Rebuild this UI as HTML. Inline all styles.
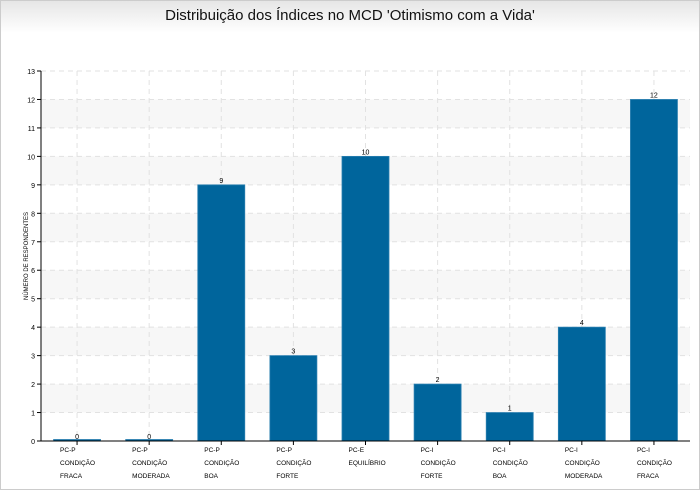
<!DOCTYPE html>
<html><head><meta charset="utf-8"><style>
body{margin:0;background:#fff}
#wrap{position:relative;width:698px;height:488px;border:1px solid #ccc;overflow:hidden;background:#fff}
#title{position:absolute;left:0;top:0;width:698px;height:32px;background:linear-gradient(#e6e6e6,#fff);text-align:center;font:15px "Liberation Sans",sans-serif;line-height:30px;color:#111}
svg{position:absolute;left:0;top:0}
</style></head><body>
<div id="wrap">
<div id="title">Distribuição dos Índices no MCD 'Otimismo com a Vida'</div>
<svg id="chart" width="698" height="488"></svg>
</div>
<script>
const categories=[["PC-P","CONDIÇÃO","FRACA"],["PC-P","CONDIÇÃO","MODERADA"],["PC-P","CONDIÇÃO","BOA"],["PC-P","CONDIÇÃO","FORTE"],["PC-E","EQUILÍBRIO"],["PC-I","CONDIÇÃO","FORTE"],["PC-I","CONDIÇÃO","BOA"],["PC-I","CONDIÇÃO","MODERADA"],["PC-I","CONDIÇÃO","FRACA"]];
const values=[0,0,9,3,10,2,1,4,12];
const yTicks=[0,1,2,3,4,5,6,7,8,9,10,11,12,13];
const svg=document.getElementById('chart');const NS='http://www.w3.org/2000/svg';
const L=40,R=689,T=70,B=440,yMax=13;
const y=v=>B-(v/yMax)*(B-T);
const step=(R-L)/categories.length;
const x=i=>L+step*(i+0.5);
function mk(t,a,p){const e=document.createElementNS(NS,t);for(const k in a)e.setAttribute(k,a[k]);(p||svg).appendChild(e);return e;}
for(let v=0;v<yMax;v++){if(v%2===1){const r=mk('rect',{x:L,y:y(v+1),width:R-L,height:y(v)-y(v+1),fill:'#f7f7f7'});}}
yTicks.forEach(v=>{const l=mk('line',{x1:L,x2:R,y1:y(v),y2:y(v),stroke:'#e2e2e2','stroke-dasharray':'5,4'});
const t=mk('line',{x1:L-4,x2:L,y1:y(v),y2:y(v),stroke:'#000'});
const tx=mk('text',{x:L-6,y:y(v)+3,'text-anchor':'end','font-size':'7','font-family':'Liberation Sans, sans-serif'});tx.textContent=v;});
categories.forEach((c,i)=>{const g=mk('line',{x1:x(i),x2:x(i),y1:T,y2:B,stroke:'#e2e2e2','stroke-dasharray':'5,4'});});
const bw=47;
values.forEach((v,i)=>{const h=Math.max(y(0)-y(v),1.5);const r=mk('rect',{x:x(i)-bw/2,y:y(0)-h,width:bw,height:h,fill:'#00659c',stroke:'#2a7fb0','stroke-width':'0.8'});
const t=mk('text',{x:x(i),y:y(v)-2,'text-anchor':'middle','font-size':'7','font-family':'Liberation Sans, sans-serif'});t.textContent=v;
const tk=mk('line',{x1:x(i),x2:x(i),y1:B,y2:B+4,stroke:'#000'});
categories[i].forEach((s,j)=>{const tx=mk('text',{x:x(i)-17,y:B+11+j*13,'font-size':'6.5','font-family':'Liberation Sans, sans-serif'});tx.textContent=s;});});
const ax=mk('line',{x1:L,x2:L,y1:T,y2:B,stroke:'#000'});
const bx=mk('line',{x1:L,x2:R,y1:B,y2:B,stroke:'#000'});
const yt=mk('text',{x:0,y:0,transform:'translate(27,255) rotate(-90)','text-anchor':'middle','font-size':'6','font-family':'Liberation Sans, sans-serif'});yt.textContent='NÚMERO DE RESPONDENTES';
</script>
</body></html>
